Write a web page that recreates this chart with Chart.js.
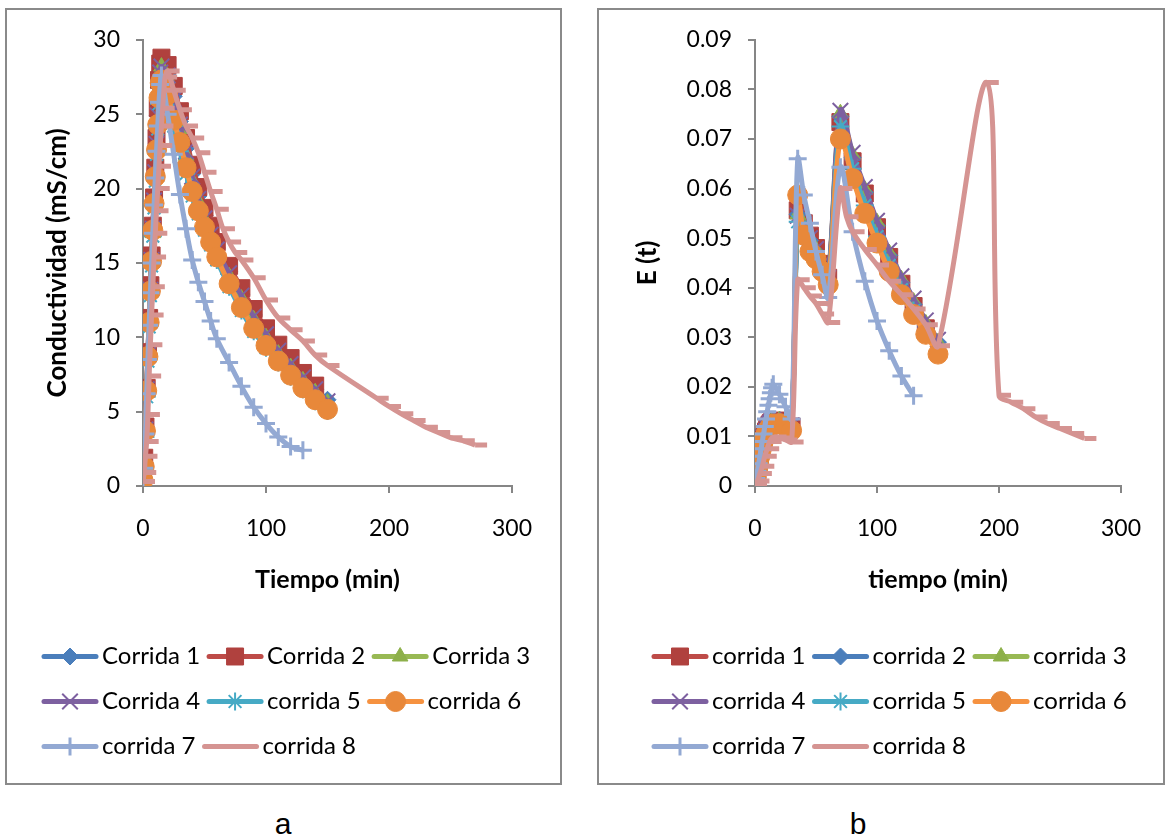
<!DOCTYPE html>
<html>
<head>
<meta charset="utf-8">
<script src="https://cdn.jsdelivr.net/npm/chart.js@4.4.1/dist/chart.umd.min.js"></script>
<style>
body{margin:0;background:#fff;width:1170px;height:836px;position:relative;overflow:hidden}
.box{position:absolute;top:8px;height:773px;border:2px solid #8a8a8a;background:#fff}
#boxA{left:5px;width:553px}
#boxB{left:597px;width:564px}
.lbl{position:absolute;top:807px;width:100px;text-align:center;font:30px "Liberation Sans",Arial,sans-serif;color:#000}
</style>
</head>
<body>
<div class="box" id="boxA"><canvas id="cA" width="553" height="773"></canvas></div>
<div class="box" id="boxB"><canvas id="cB" width="564" height="773"></canvas></div>
<div class="lbl" style="left:233px">a</div>
<div class="lbl" style="left:808px">b</div>
<script>
// ---- grafico a: conductividad ----
var tiempoA = [0,1,2,3,4,5,6,7,8,9,10,11,12,13,14,15,20,25,30,35,40,45,50,55,60,70,80,90,100,110,120,130,140,150];
var tiempo7A = [0,1,2,3,4,5,6,7,8,9,10,11,12,13,14,15,20,25,30,35,40,45,50,55,60,70,80,90,100,110,120,130];
var tiempo8A = [0,1,2,3,4,5,6,7,8,9,10,11,12,13,14,15,16,17,18,20,25,30,35,40,45,50,55,60,65,70,75,80,90,100,110,120,130,140,150,190,200,210,220,230,240,250,260,270];

var corrida1A = [0.6,1.6,3.8,6.5,8.9,11.2,13.3,15.3,17.3,19.2,21.1,23.0,24.9,26.8,27.9,28.3,27.7,26.2,24.5,22.7,21.0,19.5,18.2,17.0,16.0,14.4,12.9,11.5,10.2,9.1,8.2,7.3,6.5,5.8];
var corrida2A = [0.9,1.9,4.0,6.6,9.0,11.3,13.5,15.5,17.5,19.4,21.4,23.4,25.4,27.3,28.4,28.8,28.3,26.9,25.2,23.4,21.6,20.1,18.7,17.5,16.4,14.8,13.3,11.9,10.6,9.5,8.6,7.6,6.75];
var corrida3A = [0.3,1.2,3.6,6.3,8.6,10.9,13.0,15.0,17.0,18.9,20.8,22.7,24.6,26.5,27.7,28.2,27.4,25.7,24.0,22.2,20.5,19.1,17.9,16.8,15.8,14.1,12.6,11.2,10.0,8.9,8.0,7.1,6.3,5.6];
var corrida4A = [0.5,1.5,3.8,6.5,8.8,11.1,13.2,15.2,17.3,19.2,21.1,23.0,24.9,26.7,27.8,28.2,27.6,26.0,24.3,22.5,20.8,19.3,18.0,16.9,15.9,14.3,12.8,11.4,10.2,9.1,8.2,7.3,6.5,5.7];
var corrida5A = [0.2,1.0,3.3,6.0,8.4,10.7,12.8,14.8,16.8,18.7,20.5,22.3,24.0,25.7,26.8,27.2,26.0,24.2,22.5,21.0,19.5,18.3,17.2,16.2,15.2,13.4,11.8,10.4,9.3,8.3,7.35,6.5,5.7,5.05];
var corrida6A = [0.4,1.3,3.7,6.4,8.7,11.0,13.1,15.1,17.2,19.0,20.8,22.6,24.3,26.1,27.1,27.3,26.3,24.6,23.1,21.4,19.8,18.5,17.4,16.4,15.4,13.6,12.0,10.6,9.45,8.4,7.45,6.6,5.8,5.15];
var corrida7A = [0.3,1.2,3.5,6.2,8.5,10.8,13.0,15.0,17.0,18.9,20.7,22.5,24.2,25.8,27.0,27.6,25.0,22.3,19.6,17.3,15.2,13.7,12.4,11.1,9.9,8.3,6.7,5.3,4.2,3.3,2.65,2.4];
var corrida8A = [0.3,0.9,2.0,3.0,4.8,7.4,9.5,11.5,13.4,15.4,17.0,18.5,20.0,21.5,22.9,24.2,25.4,26.6,27.5,27.9,26.6,25.3,24.2,23.4,22.4,21.1,19.8,18.6,17.3,16.4,15.7,15.2,14.0,12.5,11.3,10.5,9.75,8.8,8.1,5.9,5.35,4.85,4.4,3.95,3.6,3.25,3.05,2.75];

// ---- grafico b: E(t) ----
var tiempoB = tiempoA;
var tiempo7B = tiempo7A;
var tiempo8B = [0,2,4,6,8,10,12,14,16,20,25,30,35,40,45,50,55,60,70,75,80,90,100,110,120,130,140,150,190,200,210,220,230,240,250,260,270];

var corrida1B = [0.0008,0.0018,0.0033,0.0048,0.0063,0.0076,0.0087,0.0096,0.0104,0.011,0.0115,0.012,0.0124,0.0127,0.0129,0.0131,0.0132,0.0126,0.012,0.0556,0.053,0.0505,0.048,0.0448,0.042,0.0734,0.0655,0.059,0.0522,0.0462,0.0408,0.0363,0.0318];
var corrida2B = [0.0007,0.0017,0.0032,0.0047,0.0062,0.0075,0.0086,0.0095,0.0102,0.0108,0.0113,0.0118,0.0122,0.0125,0.0127,0.0129,0.013,0.0124,0.0118,0.0548,0.052,0.0495,0.0472,0.0442,0.0414,0.0745,0.0662,0.0592,0.0525,0.0465,0.041,0.0366,0.0323,0.029];
var corrida3B = [0.0006,0.0019,0.0034,0.0049,0.0064,0.0077,0.0088,0.0097,0.0104,0.011,0.0116,0.0121,0.0125,0.0128,0.013,0.0132,0.0133,0.0127,0.0121,0.0548,0.0525,0.0498,0.0476,0.0446,0.0418,0.0752,0.0668,0.0598,0.0532,0.047,0.0417,0.0372,0.0328,0.029];
var corrida4B = [0.0007,0.002,0.0035,0.005,0.0065,0.0078,0.0089,0.0098,0.0105,0.0111,0.0117,0.0122,0.0126,0.0129,0.0131,0.0133,0.0134,0.0128,0.0122,0.0545,0.0528,0.05,0.0478,0.0448,0.042,0.0757,0.0672,0.0603,0.0535,0.0475,0.0423,0.0378,0.0334,0.0295];
var corrida5B = [0.0004,0.0014,0.0029,0.0044,0.0058,0.007,0.0081,0.009,0.0097,0.0103,0.0108,0.0112,0.0116,0.0119,0.0121,0.0123,0.0124,0.0117,0.011,0.0533,0.0505,0.0475,0.046,0.0436,0.041,0.0725,0.064,0.0566,0.0503,0.0445,0.0396,0.0354,0.0313,0.0272];
var corrida6B = [0.0005,0.0015,0.003,0.0045,0.006,0.0072,0.0083,0.0092,0.0099,0.0105,0.011,0.0114,0.0118,0.0121,0.0123,0.0125,0.0126,0.0119,0.0112,0.0587,0.0506,0.0473,0.0458,0.0433,0.0406,0.07,0.062,0.055,0.049,0.0433,0.0386,0.0346,0.0306,0.0266];
var corrida7B = [0.0003,0.0015,0.003,0.0045,0.006,0.0075,0.009,0.0105,0.012,0.0135,0.015,0.0163,0.0176,0.0188,0.0198,0.0205,0.0185,0.016,0.0135,0.066,0.0587,0.053,0.0473,0.0426,0.038,0.0643,0.0513,0.0413,0.0333,0.0273,0.0222,0.0182];
var corrida8B = [0.0002,0.001,0.0025,0.004,0.006,0.0075,0.009,0.0097,0.0099,0.0097,0.0093,0.0089,0.0416,0.04,0.0383,0.0368,0.0347,0.033,0.06,0.0543,0.0513,0.0477,0.0446,0.0413,0.0386,0.0357,0.0325,0.0283,0.0814,0.0183,0.0169,0.0156,0.0139,0.0126,0.0116,0.0106,0.0096];

var nombresA = ['Corrida 1','Corrida 2','Corrida 3','Corrida 4','corrida 5','corrida 6','corrida 7','corrida 8'];
var nombresB = ['corrida 1','corrida 2','corrida 3','corrida 4','corrida 5','corrida 6','corrida 7','corrida 8'];

var ticksX = [0,100,200,300];
var ticksYA = [0,5,10,15,20,25,30];
var ticksYB = [0,0.01,0.02,0.03,0.04,0.05,0.06,0.07,0.08,0.09];
var etiquetasYB = ['0','0.01','0.02','0.03','0.04','0.05','0.06','0.07','0.08','0.09'];

// estilos tipo excel
var azul = {line:'#4A7EBB', fill:'#4A7EBB', st:'rectRot', r:8.5, bw:1};
var rojo = {line:'#BE4B48', fill:'#B0413E', st:'rect', r:12, bw:1};
var verde = {line:'#98B954', fill:'#8DB04A', st:'triangle', r:9, bw:1};
var morado = {line:'#7D60A0', fill:'#7D60A0', st:'crossRot', r:11, bw:2};
var turq = {line:'#46AAC5', fill:'#46AAC5', st:'star', r:9, bw:2};
var naranja = {line:'#F69240', fill:'#E8883A', st:'circle', r:10, bw:1};
var celeste = {line:'#93A9D3', fill:'#93A9D3', st:'cross', r:9, bw:3};
var rosa = {line:'#D59492', fill:'#D59492', st:'dash', r:12, bw:5};

function puntos(xs, ys) {
  var out = [];
  for (var i = 0; i < ys.length; i++) out.push({x: xs[i], y: ys[i]});
  return out;
}

function serie(nombre, xs, ys, e, i) {
  return {
    label: nombre,
    data: puntos(xs, ys),
    borderColor: e.line,
    borderWidth: 5,
    pointStyle: e.st,
    pointRadius: e.r,
    pointBorderWidth: e.bw,
    pointBackgroundColor: e.fill,
    pointBorderColor: e.fill,
    tension: 0.35,
    order: 8 - i,
    fill: false
  };
}

// dibuja linea + marcador en la leyenda (como excel)
var leyendaLineas = {
  id: 'leyendaLineas',
  afterDraw: function(chart) {
    var lg = chart.legend;
    if (!lg || !lg.legendHitBoxes) return;
    var ctx = chart.ctx;
    lg.legendItems.forEach(function(it, i) {
      var hb = lg.legendHitBoxes[i];
      var ds = chart.data.datasets[it.datasetIndex];
      var y = hb.top + hb.height / 2;
      ctx.save();
      ctx.strokeStyle = ds.borderColor;
      ctx.lineWidth = 5;
      ctx.lineCap = 'round';
      ctx.beginPath();
      ctx.moveTo(hb.left + 3, y);
      ctx.lineTo(hb.left + 55, y);
      ctx.stroke();
      ctx.lineCap = 'butt';
      ctx.fillStyle = ds.pointBackgroundColor;
      ctx.strokeStyle = ds.pointBorderColor;
      ctx.lineWidth = ds.pointBorderWidth;
      if (ds.pointStyle != 'dash') {
        Chart.helpers.drawPoint(ctx, {pointStyle: ds.pointStyle, radius: ds.pointRadius, borderWidth: ds.pointBorderWidth, rotation: 0}, hb.left + 29, y);
      }
      ctx.restore();
    });
  }
};

function opciones(p) {
  return {
    responsive: false,
    animation: false,
    layout: {padding: {left: p.padLeft, right: 0, top: 27, bottom: 7}},
    plugins: {
      tooltip: {enabled: false},
      legend: {
        position: 'bottom',
        align: 'start',
        labels: {
          boxWidth: 49,
          boxHeight: 39,
          padding: 6,
          color: '#000',
          font: {family: 'Lato', size: 24},
          generateLabels: function(chart) {
            return chart.data.datasets.map(function(ds, i) {
              return {text: ds.label, fillStyle: 'rgba(0,0,0,0)', strokeStyle: 'rgba(0,0,0,0)', lineWidth: 0, hidden: false, datasetIndex: i, fontColor: '#000'};
            });
          }
        }
      }
    },
    scales: {
      x: {
        type: 'linear', min: 0, max: 300,
        afterBuildTicks: function(s) { s.ticks = ticksX.map(function(v) { return {value: v}; }); },
        afterFit: function(s) { s.height = 145; },
        ticks: {color: '#000', font: {family: 'Lato', size: 23}, padding: 22},
        grid: {drawOnChartArea: false, tickLength: 7, color: '#868686', lineWidth: 2},
        border: {color: '#868686', width: 2},
        title: {display: true, text: p.tituloX, color: '#000', font: {family: 'Lato', size: 25, weight: 'bold'}, padding: {top: 0, bottom: 36}}
      },
      y: {
        type: 'linear', min: 0, max: p.maxY,
        afterBuildTicks: function(s) { s.ticks = p.ticksY.map(function(v) { return {value: v}; }); },
        afterFit: function(s) { s.width = p.anchoY; },
        ticks: {color: '#000', font: {family: 'Lato', size: 23}, padding: 16, callback: p.fmt},
        grid: {drawOnChartArea: false, tickLength: 7, color: '#868686', lineWidth: 2},
        border: {color: '#868686', width: 2},
        title: {display: true, text: p.tituloY, color: '#000', font: {family: 'Lato', size: 26, weight: 'bold'}, padding: {top: p.padTitY, bottom: 0}}
      },
      yr: {
        type: 'linear', position: 'right', display: true,
        grid: {display: false}, ticks: {display: false}, border: {display: false},
        afterFit: function(s) { s.width = p.anchoDer; }
      }
    }
  };
}

var datosA = [
  serie(nombresA[0], tiempoA, corrida1A, azul, 0),
  serie(nombresA[1], tiempoA, corrida2A, rojo, 1),
  serie(nombresA[2], tiempoA, corrida3A, verde, 2),
  serie(nombresA[3], tiempoA, corrida4A, morado, 3),
  serie(nombresA[4], tiempoA, corrida5A, turq, 4),
  serie(nombresA[5], tiempoA, corrida6A, naranja, 5),
  serie(nombresA[6], tiempo7A, corrida7A, celeste, 6),
  serie(nombresA[7], tiempo8A, corrida8A, rosa, 7)
];

var datosB = [
  serie(nombresB[0], tiempoB, corrida1B, rojo, 0),
  serie(nombresB[1], tiempoB, corrida2B, azul, 1),
  serie(nombresB[2], tiempoB, corrida3B, verde, 2),
  serie(nombresB[3], tiempoB, corrida4B, morado, 3),
  serie(nombresB[4], tiempoB, corrida5B, turq, 4),
  serie(nombresB[5], tiempoB, corrida6B, naranja, 5),
  serie(nombresB[6], tiempo7B, corrida7B, celeste, 6),
  serie(nombresB[7], tiempo8B, corrida8B, rosa, 7)
];

new Chart(document.getElementById('cA'), {
  type: 'line',
  data: {datasets: datosA},
  options: opciones({padLeft: 28, anchoY: 108, anchoDer: 48, maxY: 30, ticksY: ticksYA,
    tituloX: 'Tiempo (min)', tituloY: 'Conductividad (mS/cm)', padTitY: 7,
    fmt: function(v) { return String(v); }}),
  plugins: [leyendaLineas]
});

new Chart(document.getElementById('cB'), {
  type: 'line',
  data: {datasets: datosB},
  options: opciones({padLeft: 46, anchoY: 110, anchoDer: 33, maxY: 0.09, ticksY: ticksYB,
    tituloX: 'tiempo (min)', tituloY: 'E (t)', padTitY: -13,
    fmt: function(v, i) { return etiquetasYB[i]; }}),
  plugins: [leyendaLineas]
});
</script>
</body>
</html>
